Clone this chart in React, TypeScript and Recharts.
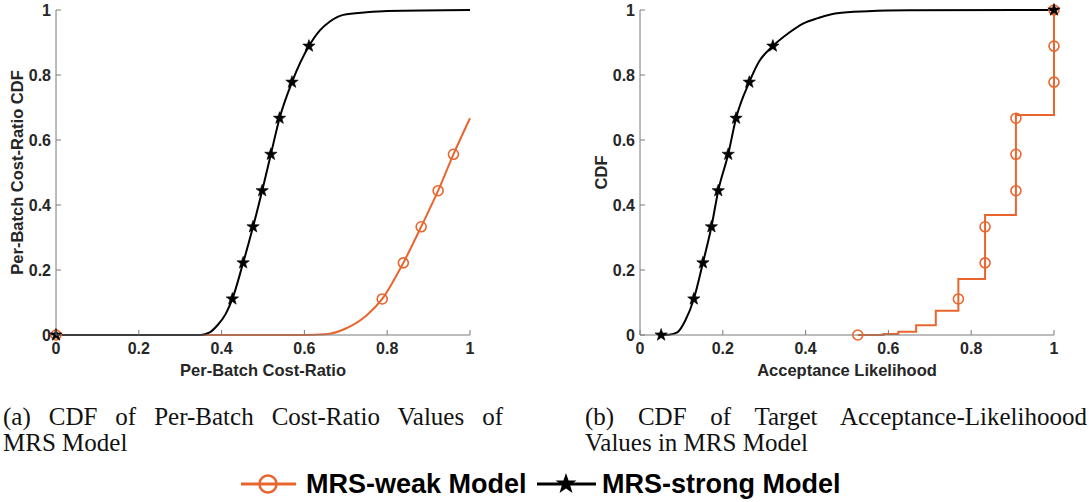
import React from 'react';
import { ComposedChart, Line, XAxis, YAxis } from 'recharts';

// (a) per-batch cost-ratio CDF
const costStrongX = [0, 0.35, 0.37, 0.39, 0.41, 0.426, 0.452, 0.476, 0.498, 0.519, 0.54, 0.57, 0.611, 0.638, 0.66, 0.694, 0.75, 0.8, 1];
const costStrongY = [0, 0, 0.007, 0.03, 0.065, 0.111, 0.222, 0.333, 0.444, 0.556, 0.667, 0.778, 0.889, 0.938, 0.963, 0.985, 0.993, 0.997, 1];
const costStrongMarkX = [0, 0.426, 0.452, 0.476, 0.498, 0.519, 0.54, 0.57, 0.611];
const costStrongMarkY = [0, 0.111, 0.222, 0.333, 0.444, 0.556, 0.667, 0.778, 0.889];

const costWeakX = [0, 0.6, 0.65, 0.7, 0.75, 0.788, 0.839, 0.882, 0.923, 0.96, 1];
const costWeakY = [0, 0, 0.002, 0.02, 0.06, 0.111, 0.222, 0.333, 0.444, 0.556, 0.667];
const costWeakMarkX = [0, 0.788, 0.839, 0.882, 0.923, 0.96];
const costWeakMarkY = [0, 0.111, 0.222, 0.333, 0.444, 0.556];

// (b) target acceptance-likelihood CDF
const acceptStrongX = [0.051, 0.07, 0.09, 0.11, 0.13, 0.152, 0.1725, 0.189, 0.213, 0.232, 0.264, 0.288, 0.321, 0.36, 0.395, 0.43, 0.476, 0.55, 0.65, 1];
const acceptStrongY = [0, 0.001, 0.008, 0.046, 0.111, 0.222, 0.333, 0.444, 0.556, 0.667, 0.778, 0.842, 0.889, 0.93, 0.959, 0.975, 0.99, 0.996, 0.999, 1];
const acceptStrongMarkX = [0.051, 0.13, 0.152, 0.1725, 0.189, 0.213, 0.232, 0.264, 0.321, 1];
const acceptStrongMarkY = [0, 0.111, 0.222, 0.333, 0.444, 0.556, 0.667, 0.778, 0.889, 1];

const acceptWeakX = [0.526, 0.588, 0.624, 0.667, 0.7145, 0.769, 0.8335, 0.908, 1];
const acceptWeakY = [0, 0.003, 0.01, 0.03, 0.075, 0.172, 0.369, 0.677, 1];
const acceptWeakMarkX = [0.526, 0.769, 0.8335, 0.8335, 0.908, 0.908, 0.908, 1, 1, 1];
const acceptWeakMarkY = [0, 0.111, 0.222, 0.333, 0.444, 0.556, 0.667, 0.778, 0.889, 1];

const TICKS = [0, 0.2, 0.4, 0.6, 0.8, 1];

const ORANGE = '#E9652E';
const INK = '#262626';
const AXIS = '#7a7a7a';
const SANS = '"Liberation Sans", Arial, sans-serif';
const SERIF = '"Liberation Serif", "Times New Roman", serif';

const zip = (xs: number[], ys: number[]) => xs.map((x, i) => ({ x, y: ys[i] }));

const starPath = (cx: number, cy: number, r: number) => {
  const pts: string[] = [];
  for (let i = 0; i < 10; i++) {
    const a = -Math.PI / 2 + (i * Math.PI) / 5;
    const rr = i % 2 === 0 ? r : r * 0.4;
    pts.push(`${(cx + rr * Math.cos(a)).toFixed(2)},${(cy + rr * Math.sin(a)).toFixed(2)}`);
  }
  return `M${pts.join('L')}Z`;
};

const StarDot = (props: any) => {
  const { cx, cy, index } = props;
  if (cx == null || cy == null) return <g key={`s-${index}`} />;
  return <path key={`s-${index}`} d={starPath(cx, cy, 6.5)} fill="#000" stroke="#000" strokeWidth={0.6} />;
};

const CircleDot = (props: any) => {
  const { cx, cy, index } = props;
  if (cx == null || cy == null) return <g key={`c-${index}`} />;
  return <circle key={`c-${index}`} cx={cx} cy={cy} r={5} fill="none" stroke={ORANGE} strokeWidth={1.6} />;
};

const X_MARGIN = 8;
const Y_MARGIN = 5;
const TICK_FONT = 16;

const XTick = (props: any) => {
  const { x, y, payload } = props;
  const axisY = y - X_MARGIN;
  return (
    <g>
      <line x1={x} x2={x} y1={axisY} y2={axisY - 5} stroke={AXIS} />
      <text x={x} y={y + 11} textAnchor="middle" fontFamily={SANS} fontWeight="bold" fontSize={TICK_FONT} fill={INK}>
        {String(payload.value)}
      </text>
    </g>
  );
};

const YTick = (props: any) => {
  const { x, y, payload } = props;
  const axisX = x + Y_MARGIN;
  return (
    <g>
      <line x1={axisX} x2={axisX + 5} y1={y} y2={y} stroke={AXIS} />
      <text x={x} y={y} dy="0.36em" textAnchor="end" fontFamily={SANS} fontWeight="bold" fontSize={TICK_FONT} fill={INK}>
        {String(payload.value)}
      </text>
    </g>
  );
};

type PanelProps = {
  left: number;
  width: number;
  yAxisWidth: number;
  yLabel: string;
  yLabelOffset: number;
  xLabel: string;
  weak: { x: number; y: number }[];
  weakMarks: { x: number; y: number }[];
  weakType: 'monotone' | 'stepAfter';
  strong: { x: number; y: number }[];
  strongMarks: { x: number; y: number }[];
};

const labelStyle = { fontFamily: SANS, fontWeight: 'bold', fontSize: 16.5, fill: INK };

const CdfPanel = (p: PanelProps) => (
  <div style={{ position: 'absolute', left: p.left, top: 0 }}>
    <ComposedChart width={p.width} height={380} margin={{ top: 10, right: 20, left: 0, bottom: 0 }}>
      <XAxis
        type="number"
        dataKey="x"
        domain={[0, 1]}
        ticks={TICKS}
        height={45}
        tickSize={0}
        tickMargin={X_MARGIN}
        tickLine={false}
        axisLine={{ stroke: AXIS }}
        tick={<XTick />}
        interval={0}
        label={{ value: p.xLabel, position: 'insideBottom', offset: 4, style: labelStyle }}
      />
      <YAxis
        type="number"
        dataKey="y"
        domain={[0, 1]}
        ticks={TICKS}
        width={p.yAxisWidth}
        tickSize={0}
        tickMargin={Y_MARGIN}
        tickLine={false}
        axisLine={{ stroke: AXIS }}
        tick={<YTick />}
        interval={0}
        label={{
          value: p.yLabel,
          angle: -90,
          position: 'insideLeft',
          offset: p.yLabelOffset,
          style: { ...labelStyle, textAnchor: 'middle' },
        }}
      />
      <Line data={p.weak} dataKey="y" type={p.weakType} stroke={ORANGE} strokeWidth={2} dot={false} isAnimationActive={false} />
      <Line data={p.weakMarks} dataKey="y" stroke="none" dot={<CircleDot />} isAnimationActive={false} />
      <Line data={p.strong} dataKey="y" type="monotone" stroke="#000" strokeWidth={2} dot={false} isAnimationActive={false} />
      <Line data={p.strongMarks} dataKey="y" stroke="none" dot={<StarDot />} isAnimationActive={false} />
    </ComposedChart>
  </div>
);

const captionLine1: React.CSSProperties = {
  textAlign: 'justify',
  textAlignLast: 'justify',
  whiteSpace: 'nowrap',
};

const Caption = ({ left, width, line1, line2 }: { left: number; width: number; line1: string; line2: string }) => (
  <div
    style={{
      position: 'absolute',
      left,
      top: 404,
      width,
      fontFamily: SERIF,
      fontSize: 25,
      lineHeight: '26px',
      color: '#111',
    }}
  >
    <div style={captionLine1}>{line1}</div>
    <div>{line2}</div>
  </div>
);

const LegendItem = ({ left, kind, text }: { left: number; kind: 'weak' | 'strong'; text: string }) => (
  <div style={{ position: 'absolute', left, top: 470, height: 28, display: 'flex', alignItems: 'center' }}>
    <svg width={60} height={28}>
      {kind === 'weak' ? (
        <g>
          <line x1={0} x2={55} y1={14} y2={14} stroke={ORANGE} strokeWidth={3} />
          <circle cx={27} cy={14} r={8.5} fill="none" stroke={ORANGE} strokeWidth={2.5} />
        </g>
      ) : (
        <g>
          <line x1={0} x2={59} y1={14} y2={14} stroke="#000" strokeWidth={3} />
          <path d={starPath(29, 14, 11)} fill="#000" />
        </g>
      )}
    </svg>
    <span
      style={{
        fontFamily: SANS,
        fontWeight: 'bold',
        fontSize: 27,
        color: '#000',
        marginLeft: 5,
        whiteSpace: 'nowrap',
      }}
    >
      {text}
    </span>
  </div>
);

export default function App() {
  return (
    <div style={{ position: 'absolute', left: 0, top: 0, width: 1089, height: 502, background: '#fff' }}>
      <CdfPanel
        left={0}
        width={490}
        yAxisWidth={56}
        yLabel="Per-Batch Cost-Ratio CDF"
        yLabelOffset={17}
        xLabel="Per-Batch Cost-Ratio"
        weak={zip(costWeakX, costWeakY)}
        weakMarks={zip(costWeakMarkX, costWeakMarkY)}
        weakType="monotone"
        strong={zip(costStrongX, costStrongY)}
        strongMarks={zip(costStrongMarkX, costStrongMarkY)}
      />
      <CdfPanel
        left={590}
        width={484}
        yAxisWidth={50}
        yLabel="CDF"
        yLabelOffset={11}
        xLabel="Acceptance Likelihood"
        weak={zip(acceptWeakX, acceptWeakY)}
        weakMarks={zip(acceptWeakMarkX, acceptWeakMarkY)}
        weakType="stepAfter"
        strong={zip(acceptStrongX, acceptStrongY)}
        strongMarks={zip(acceptStrongMarkX, acceptStrongMarkY)}
      />
      <Caption left={3} width={500} line1="(a) CDF of Per-Batch Cost-Ratio Values of" line2="MRS Model" />
      <Caption left={585} width={502} line1="(b) CDF of Target Acceptance-Likelihoood" line2="Values in MRS Model" />
      <LegendItem left={241} kind="weak" text="MRS-weak Model" />
      <LegendItem left={537} kind="strong" text="MRS-strong Model" />
    </div>
  );
}
